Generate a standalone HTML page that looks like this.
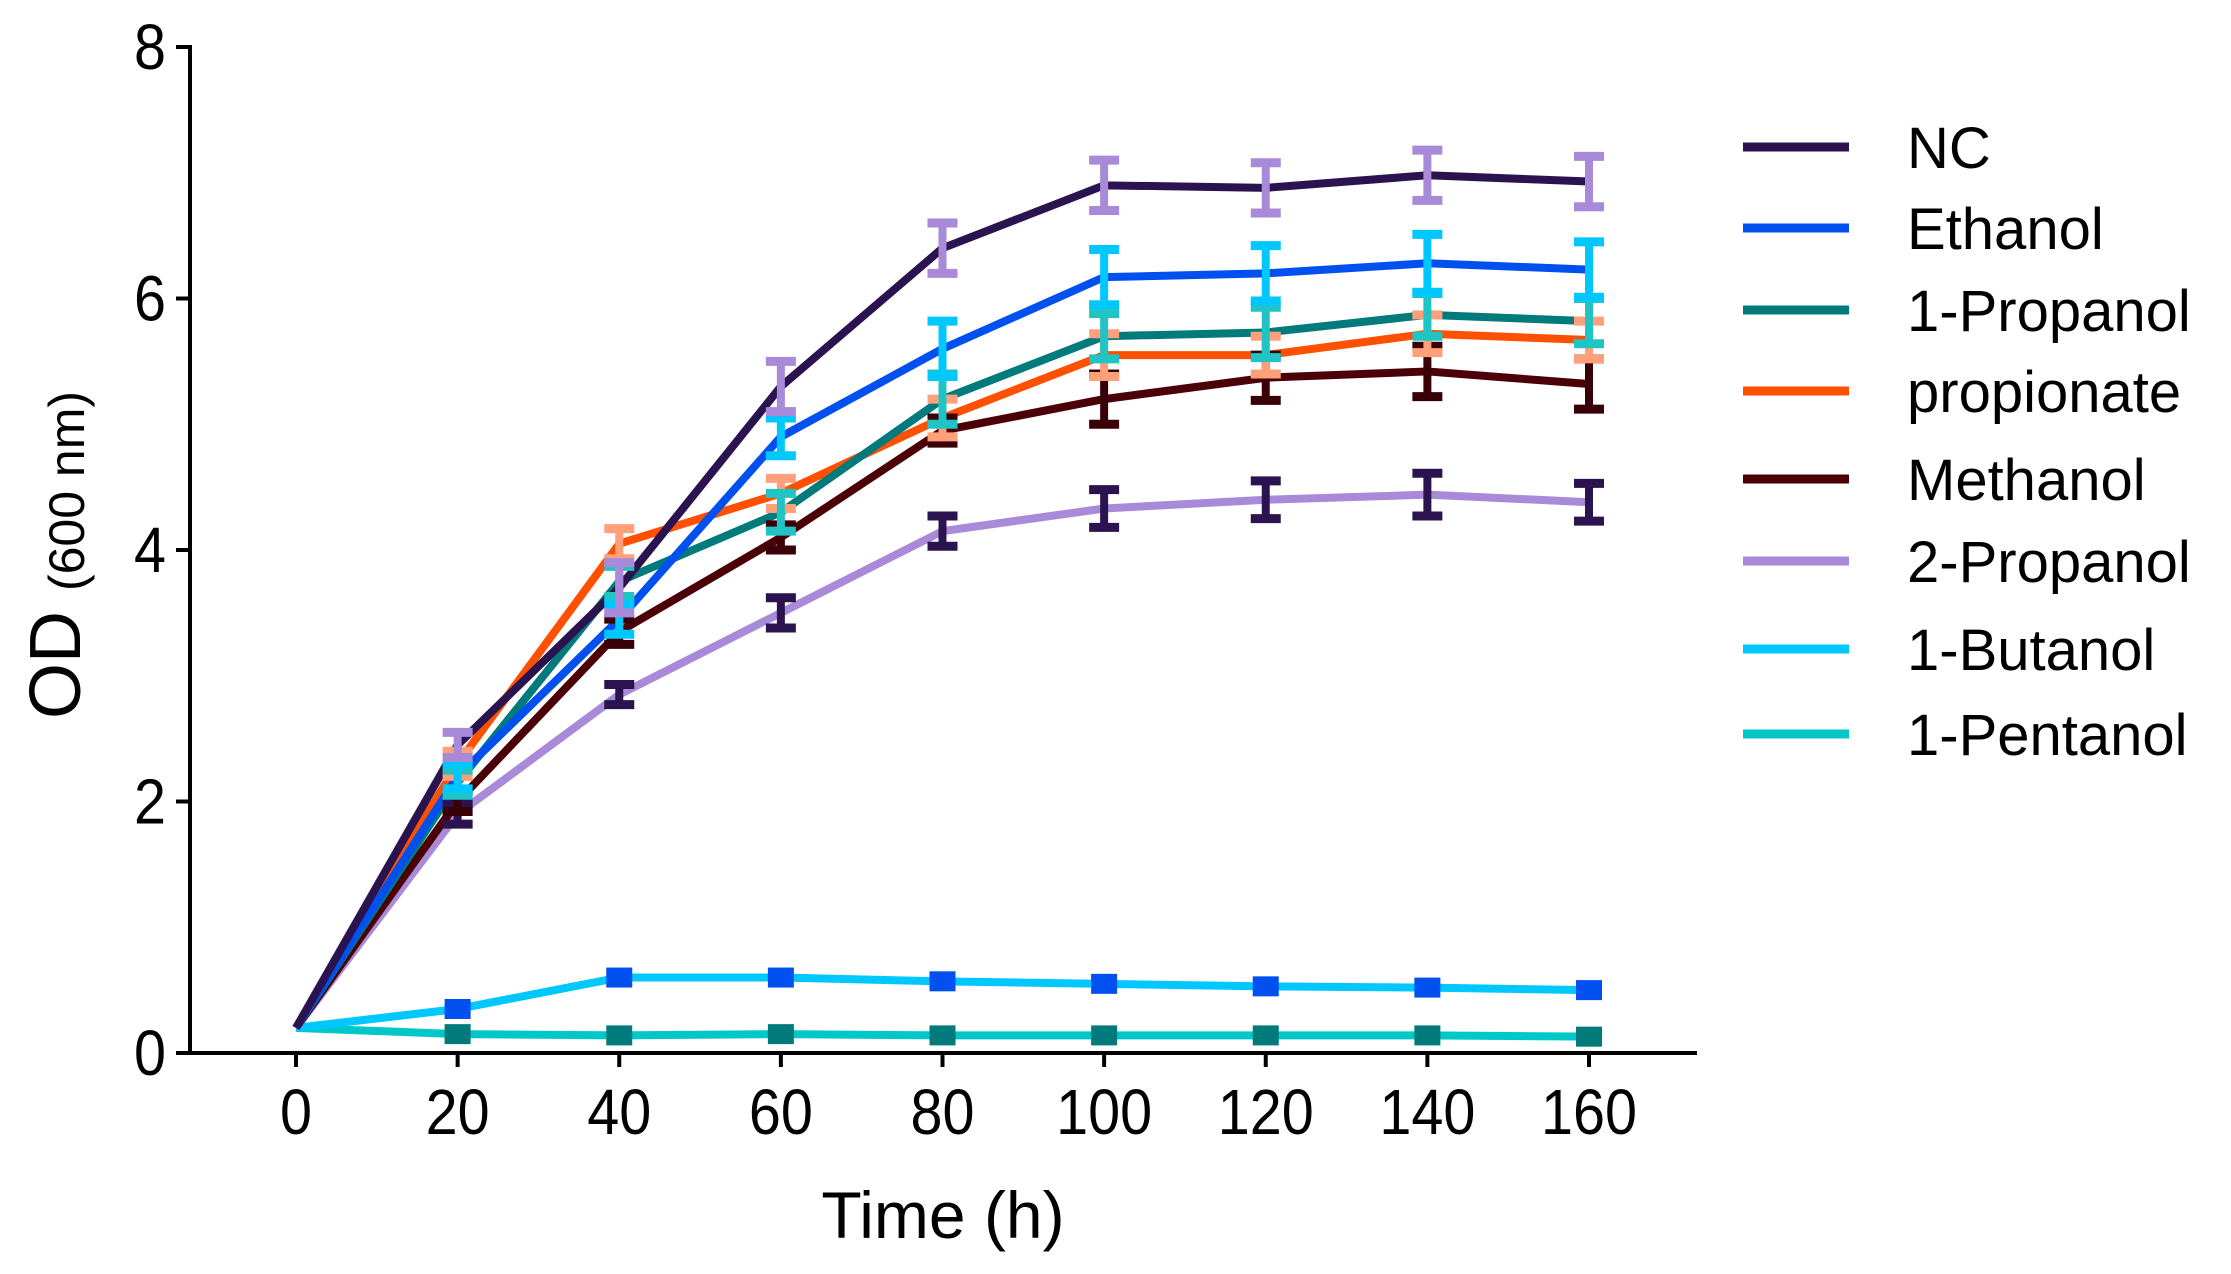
<!DOCTYPE html>
<html><head><meta charset="utf-8">
<style>
html,body{margin:0;padding:0;background:#fff;}
svg{display:block;}
text{font-family:"Liberation Sans",Arial,sans-serif;fill:#000;}
</style></head>
<body>
<svg id="chart" width="2231" height="1274" viewBox="0 0 2231 1274" xmlns="http://www.w3.org/2000/svg">
<g id="marks"></g>
<g id="axes"></g>
<g id="legend"></g>
</svg>
<script>
const times = [0,20,40,60,80,100,120,140,160];
const xTicks = [0,20,40,60,80,100,120,140,160];
const yTicks = [0,2,4,6,8];
const seriesNames = ["NC","Ethanol","1-Propanol","propionate","Methanol","2-Propanol","1-Butanol","1-Pentanol"];
const ncValues = [0.2,2.45,3.7,5.3,6.4,6.9,6.88,6.98,6.93];
const ethanolValues = [0.2,2.2,3.45,4.9,5.6,6.17,6.2,6.28,6.23];
const propanol1Values = [0.2,2.15,3.75,4.3,5.2,5.7,5.73,5.87,5.82];
const propionateValues = [0.2,2.3,4.05,4.45,5.05,5.55,5.55,5.72,5.67];
const methanolValues = [0.2,2.0,3.35,4.1,4.95,5.2,5.37,5.42,5.32];
const propanol2Values = [0.2,1.9,2.85,3.5,4.15,4.33,4.4,4.44,4.38];
const butanolValues = [0.2,0.35,0.6,0.6,0.57,0.55,0.53,0.52,0.5];
const pentanolValues = [0.2,0.15,0.14,0.15,0.14,0.14,0.14,0.14,0.13];
const ncErr = [0.02,0.1,0.2,0.2,0.2,0.2,0.2,0.2,0.2];
const ethanolErr = [0.02,0.1,0.12,0.15,0.22,0.22,0.22,0.23,0.22];
const propanol1Err = [0.02,0.1,0.12,0.15,0.2,0.18,0.2,0.17,0.18];
const propionateErr = [0.02,0.1,0.12,0.12,0.15,0.17,0.15,0.15,0.15];
const methanolErr = [0.02,0.08,0.1,0.1,0.1,0.2,0.18,0.2,0.2];
const propanol2Err = [0.02,0.08,0.08,0.12,0.12,0.15,0.15,0.17,0.15];
const butanolErr = [0.02,0.04,0.06,0.06,0.06,0.05,0.05,0.05,0.05];
const pentanolErr = [0.02,0.02,0.02,0.02,0.02,0.02,0.02,0.02,0.02];

const allValues=[ncValues,ethanolValues,propanol1Values,propionateValues,methanolValues,propanol2Values,butanolValues,pentanolValues];
const allErr=[ncErr,ethanolErr,propanol1Err,propionateErr,methanolErr,propanol2Err,butanolErr,pentanolErr];
const lineColors=["#2b1350","#0050f0","#007a7a","#ff5000","#4a0006","#a98ad8","#00c8ff","#00c8c8"];
const errColors=["#a98ad8","#00c8ff","#20c4c4","#ffa07a","#3a0008","#2b1350","#0050f0","#007a7a"];

const X0=190, XEND=1697, Y0=1053, YTOP=47;
const px0=296, px1=1589;
function xs(t){return px0+(t-0)/(160-0)*(px1-px0);}
function ys(v){return Y0-(v/8)*(Y0-YTOP);}
const NS="http://www.w3.org/2000/svg";
function mk(tag,attrs,parent){const e=document.createElementNS(NS,tag);for(const k in attrs)e.setAttribute(k,attrs[k]);parent.appendChild(e);return e;}
const marks=document.getElementById('marks'), axes=document.getElementById('axes'), legend=document.getElementById('legend');

for(let s=allValues.length-1;s>=0;s--){
  const vals=allValues[s];
  const pts=vals.map((v,i)=>xs(times[i])+","+ys(v)).join(" ");
  const pl=mk('polyline',{points:pts,fill:'none',stroke:lineColors[s],'stroke-width':8,'stroke-linejoin':'round'},marks);
  
  
}
for(let s=allValues.length-1;s>=0;s--){
  const vals=allValues[s], err=allErr[s];
  for(let i=1;i<vals.length;i++){
    const x=xs(times[i]), yt=ys(vals[i]+err[i]), yb=ys(vals[i]-err[i]);
    const g=mk('g',{stroke:errColors[s],'stroke-width':8,fill:errColors[s]},marks);
    
    
    mk('line',{x1:x,x2:x,y1:yt,y2:yb},g);
    if(s>=6){mk('rect',{x:x-13,y:ys(vals[i])-10,width:26,height:20,stroke:'none'},g);}
    else{mk('line',{x1:x-15,x2:x+15,y1:yt,y2:yt,'stroke-width':9},g);mk('line',{x1:x-15,x2:x+15,y1:yb,y2:yb,'stroke-width':9},g);}
  }
}
const ya=mk('line',{x1:X0,x2:X0,y1:YTOP-2,y2:Y0+2,stroke:'#000','stroke-width':4},axes);

const xa=mk('line',{x1:X0-2,x2:XEND,y1:Y0,y2:Y0,stroke:'#000','stroke-width':4},axes);

yTicks.forEach(v=>{
  const y=ys(v);
  mk('line',{x1:X0-14,x2:X0,y1:y,y2:y,stroke:'#000','stroke-width':4},axes);
  const t=mk('text',{x:X0-24,y:y+22,'text-anchor':'end','font-size':64,textLength:32,lengthAdjust:'spacingAndGlyphs'},axes);
  t.textContent=v;
  
  
});
xTicks.forEach(v=>{
  const x=xs(v);
  mk('line',{x1:x,x2:x,y1:Y0,y2:Y0+14,stroke:'#000','stroke-width':4},axes);
  const t=mk('text',{x:x,y:1134,'text-anchor':'middle','font-size':64,textLength:(String(v).length*32),lengthAdjust:'spacingAndGlyphs'},axes);
  t.textContent=v;
  
  
});
const xt=mk('text',{x:943,y:1238,'text-anchor':'middle','font-size':66},axes);
xt.textContent='Time (h)';


const yt=mk('text',{x:0,y:0,'text-anchor':'middle',transform:'translate(80,555) rotate(-90)'},axes);


const t1=mk('tspan',{'font-size':72},yt);t1.textContent='OD ';
const t2=mk('tspan',{'font-size':50,dy:4},yt);t2.textContent='(600 nm)';
const legY=[147,228,310,391,479,561,649,734];
seriesNames.forEach((n,i)=>{
  const g=mk('g',{},legend);
  
  
  mk('line',{x1:1743,x2:1849,y1:legY[i],y2:legY[i],stroke:lineColors[i],'stroke-width':9},g);
  const t=mk('text',{x:1907,y:legY[i]+21,'font-size':58},g);
  t.textContent=n;
});
</script>
</body></html>
